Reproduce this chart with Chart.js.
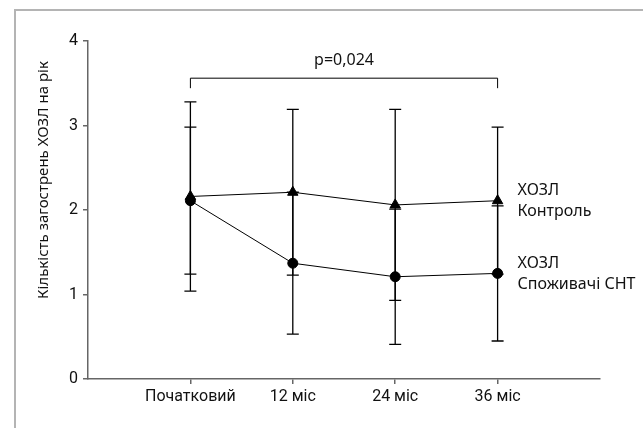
<!DOCTYPE html>
<html>
<head>
<meta charset="utf-8">
<title>ХОЗЛ</title>
<script src="https://cdn.jsdelivr.net/npm/chart.js"></script>
<style>
	html, body { margin: 0; padding: 0; background: #fff; }
	#wrap { position: relative; width: 643px; height: 428px; overflow: hidden; }
	.frame {
		position: absolute; left: 14px; top: 9px; width: 1000px; height: 1000px;
		border-left: 2px solid #b4b4b4; border-top: 2px solid #b4b4b4;
	}
	canvas { position: absolute; left: 0; top: 0; }
</style>
</head>
<body>
<div id="wrap">
	<div class="frame"></div>
	<canvas id="myChart" width="643" height="428"></canvas>
</div>
<script>
var categories = ['Початковий', '12 міс', '24 міс', '36 міс'];
var controlMean = [2.16, 2.21, 2.06, 2.11];
var controlErr = [1.12, 0.98, 1.13, 0.87];
var cntMean = [2.11, 1.37, 1.21, 1.25];
var cntErr = [0.87, 0.84, 0.80, 0.80];
var yTicks = [0, 1, 2, 3, 4];
var seriesNames = [['ХОЗЛ', 'Контроль'], ['ХОЗЛ', 'Споживачі СНТ']];
var yTitle = 'Кількість загострень ХОЗЛ на рік';
var pText = 'p=0,024';
var bracketY = 3.56;

var FONT = 'Roboto, "Liberation Sans", sans-serif';
var WIDE_FONT = '"Noto Sans", "Liberation Sans", sans-serif';

function toPoints(arr) {
	return arr.map(function(v, i) { return { x: i + 1, y: v }; });
}

// error bars, bracket, series names, y title
var extras = {
	id: 'extras',
	afterDatasetsDraw: function(chart) {
		var ctx = chart.ctx;
		var xs = chart.scales.x, ys = chart.scales.y;
		ctx.save();
		ctx.strokeStyle = '#000';
		ctx.lineWidth = 1.3;
		[[controlMean, controlErr], [cntMean, cntErr]].forEach(function(s) {
			s[0].forEach(function(m, i) {
				var x = xs.getPixelForValue(i + 1);
				var top = ys.getPixelForValue(m + s[1][i]);
				var bot = ys.getPixelForValue(m - s[1][i]);
				ctx.beginPath();
				ctx.moveTo(x, top); ctx.lineTo(x, bot);
				ctx.moveTo(x - 6, top); ctx.lineTo(x + 6, top);
				ctx.moveTo(x - 6, bot); ctx.lineTo(x + 6, bot);
				ctx.stroke();
			});
		});

		// bracket
		var bx1 = xs.getPixelForValue(1), bx2 = xs.getPixelForValue(4);
		var by = ys.getPixelForValue(bracketY);
		ctx.lineWidth = 1;
		ctx.beginPath();
		ctx.moveTo(bx1, by + 10); ctx.lineTo(bx1, by);
		ctx.lineTo(bx2, by); ctx.lineTo(bx2, by + 10);
		ctx.stroke();
		ctx.fillStyle = '#111';
		ctx.font = '16px ' + WIDE_FONT;
		ctx.textAlign = 'center';
		ctx.textBaseline = 'middle';
		ctx.fillText(pText, (bx1 + bx2) / 2, by - 18);

		// series names at the right
		ctx.textAlign = 'left';
		var last = categories.length - 1;
		[controlMean, cntMean].forEach(function(arr, k) {
			var x = xs.getPixelForValue(last + 1) + 20;
			var y = ys.getPixelForValue(arr[last]);
			ctx.fillText(seriesNames[k][0], x, y - 10);
			ctx.fillText(seriesNames[k][1], x, y + 11);
		});

		// y title
		ctx.translate(44, chart.chartArea.top + 139);
		ctx.rotate(-Math.PI / 2);
		ctx.textAlign = 'center';
		ctx.font = '15px ' + WIDE_FONT;
		ctx.fillText(yTitle, 0, 0);
		ctx.restore();
	}
};

var chartConfig = {
	type: 'line',
	data: {
		datasets: [{
			label: 'Контроль',
			data: toPoints(controlMean),
			borderColor: '#000',
			backgroundColor: '#000',
			borderWidth: 1,
			pointStyle: 'triangle',
			pointRadius: 6,
			pointBorderWidth: 1
		}, {
			label: 'Споживачі СНТ',
			data: toPoints(cntMean),
			borderColor: '#000',
			backgroundColor: '#000',
			borderWidth: 1,
			pointStyle: 'circle',
			pointRadius: 5,
			pointBorderWidth: 1
		}]
	},
	options: {
		responsive: false,
		animation: false,
		layout: { padding: { top: 41, right: 43, left: 0, bottom: 0 } },
		plugins: { legend: { display: false }, tooltip: { enabled: false } },
		scales: {
			x: {
				type: 'linear',
				min: 0,
				max: categories.length + 1,
				afterBuildTicks: function(scale) {
					scale.ticks = categories.map(function(c, i) { return { value: i + 1 }; });
				},
				afterFit: function(scale) { scale.height = 49; },
				ticks: {
					color: '#111',
					font: { size: 16, family: FONT },
					padding: 3,
					callback: function(v) { return categories[v - 1]; }
				},
				grid: { drawOnChartArea: false, color: '#666', tickLength: 5, lineWidth: 1.5 },
				border: { color: '#666', width: 1.5 }
			},
			y: {
				min: 0,
				max: 4,
				afterBuildTicks: function(scale) {
					scale.ticks = yTicks.map(function(v) { return { value: v }; });
				},
				afterFit: function(scale) { scale.width = 88; },
				ticks: {
					color: '#111',
					font: { size: 16, family: FONT },
					padding: 5
				},
				grid: { drawOnChartArea: false, color: '#666', tickLength: 5, lineWidth: 1.5 },
				border: { color: '#666', width: 1.5 }
			}
		}
	},
	plugins: [extras]
};

new Chart(document.getElementById('myChart'), chartConfig);
</script>
</body>
</html>
